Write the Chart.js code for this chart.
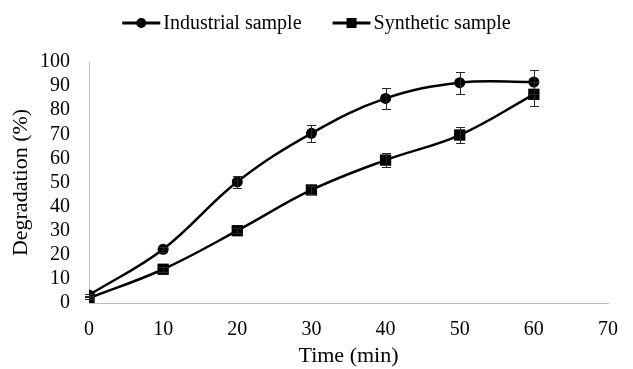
<!DOCTYPE html>
<html>
<head>
<meta charset="utf-8">
<script src="https://cdn.jsdelivr.net/npm/chart.js@4.4.1/dist/chart.umd.min.js"></script>
<style>
  html, body { margin: 0; padding: 0; background: #fff; }
</style>
</head>
<body>
<canvas id="chart" width="633" height="369"></canvas>
<script>
// time points (min)
const times = [0, 10, 20, 30, 40, 50, 60];

// degradation (%)
const industrial = [3.3, 22.3, 50.3, 70.4, 84.9, 91.4, 91.7];
const industrialErr = [0.5, 1, 2.5, 3.4, 4.2, 4.5, 4.8];

const synthetic = [2.0, 14.0, 30.0, 46.9, 59.3, 69.7, 86.6];
const syntheticErr = [0.5, 1, 1, 1.5, 2.9, 3.5, 4.9];

const seriesLabels = ["Industrial sample", "Synthetic sample"];

const serif = '"Liberation Serif", "Times New Roman", serif';

// vertical error bars with small caps
const errorBars = {
  id: "errorBars",
  afterDatasetsDraw(chart) {
    const { ctx, scales: { x, y } } = chart;
    ctx.save();
    ctx.strokeStyle = "#262626";
    ctx.lineWidth = 1;
    chart.data.datasets.forEach(ds => {
      ds.errors.forEach((e, i) => {
        if (!e) return;
        const pt = ds.data[i];
        const px = Math.round(x.getPixelForValue(pt.x)) + 0.5;
        const top = Math.round(y.getPixelForValue(pt.y + e)) + 0.5;
        const bot = Math.round(y.getPixelForValue(pt.y - e)) + 0.5;
        ctx.beginPath();
        ctx.moveTo(px, top);
        ctx.lineTo(px, bot);
        ctx.moveTo(px - 4.5, top);
        ctx.lineTo(px + 4.5, top);
        ctx.moveTo(px - 4.5, bot);
        ctx.lineTo(px + 4.5, bot);
        ctx.stroke();
      });
    });
    ctx.restore();
  }
};

// excel-like legend: line with marker, then label
const lineLegend = {
  id: "lineLegend",
  afterDraw(chart) {
    const ctx = chart.ctx;
    ctx.save();
    ctx.font = "20px " + serif;
    const items = chart.data.datasets.map(ds => ({ ds, w: 41 + ctx.measureText(ds.label).width }));
    const gap = 31;
    const total = items.reduce((s, it) => s + it.w, 0) + gap * (items.length - 1);
    let x = (chart.width - total) / 2;
    const y = 23;
    items.forEach(it => {
      ctx.strokeStyle = "#000";
      ctx.lineWidth = 3;
      ctx.beginPath();
      ctx.moveTo(x, y);
      ctx.lineTo(x + 38, y);
      ctx.stroke();
      ctx.fillStyle = "#000";
      if (it.ds.pointStyle === "rect") {
        ctx.fillRect(x + 14, y - 5, 10, 10);
      } else {
        ctx.beginPath();
        ctx.arc(x + 19, y, 5, 0, Math.PI * 2);
        ctx.fill();
      }
      ctx.textBaseline = "middle";
      ctx.textAlign = "left";
      ctx.fillText(it.ds.label, x + 41, y + 1);
      x += it.w + gap;
    });
    ctx.restore();
  }
};

const toPoints = vals => times.map((t, i) => ({ x: t, y: vals[i] }));

new Chart(document.getElementById("chart"), {
  type: "line",
  data: {
    datasets: [
      {
        label: seriesLabels[0],
        data: toPoints(industrial),
        errors: industrialErr,
        borderColor: "#000",
        backgroundColor: "#000",
        borderWidth: 2.5,
        pointStyle: "circle",
        pointRadius: 5.5,
        pointBorderWidth: 0,
        tension: 0.38
      },
      {
        label: seriesLabels[1],
        data: toPoints(synthetic),
        errors: syntheticErr,
        borderColor: "#000",
        backgroundColor: "#000",
        borderWidth: 2.5,
        pointStyle: "rect",
        pointRadius: 8,
        pointBorderWidth: 0,
        tension: 0.38
      }
    ]
  },
  options: {
    responsive: false,
    animation: false,
    layout: { padding: { top: 62, right: 16, left: 0, bottom: 0 } },
    plugins: {
      legend: { display: false },
      tooltip: { enabled: false }
    },
    scales: {
      x: {
        type: "linear",
        min: 0,
        max: 70,
        afterFit: s => { s.height = 66; },
        grid: { display: false, drawTicks: false },
        border: { color: "#bfbfbf", width: 1 },
        ticks: {
          stepSize: 10,
          autoSkip: false,
          maxRotation: 0,
          padding: 15,
          color: "#000",
          font: { family: serif, size: 20 }
        },
        title: {
          display: true,
          text: "Time (min)",
          color: "#000",
          font: { family: serif, size: 22 },
          padding: { top: 0, bottom: 0 }
        }
      },
      y: {
        min: 0,
        max: 100,
        afterFit: s => { s.width = 89; },
        grid: { display: false, drawTicks: false },
        border: { color: "#bfbfbf", width: 1 },
        ticks: {
          stepSize: 10,
          autoSkip: false,
          padding: 19,
          color: "#000",
          font: { family: serif, size: 20 }
        },
        title: {
          display: true,
          text: "Degradation (%)",
          color: "#000",
          font: { family: serif, size: 22 },
          padding: { top: 8, bottom: 0 }
        }
      }
    }
  },
  plugins: [errorBars, lineLegend]
});
</script>
</body>
</html>
